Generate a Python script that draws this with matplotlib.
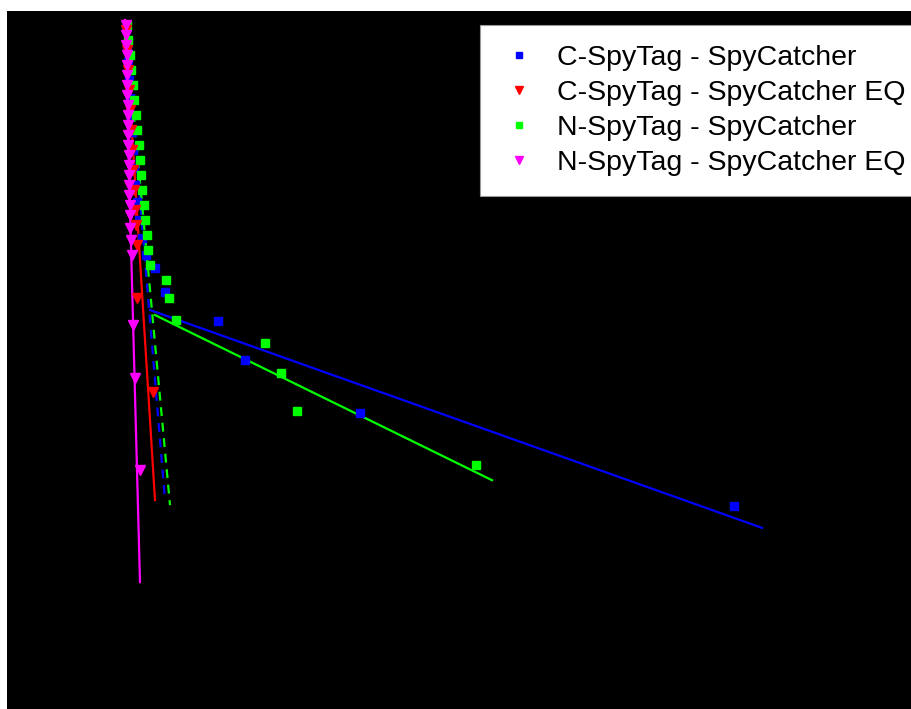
import matplotlib.pyplot as plt

plt.rcParams['font.family'] = ['Liberation Sans', 'DejaVu Sans']

# Scatchard-type data: bound (x) vs bound/free (y)
c_wt_x = [0.06, 0.07, 0.08, 0.09, 0.10, 0.11, 0.12, 0.13, 0.14, 0.15, 0.17, 0.19, 0.22, 0.26,
          0.35, 0.45, 0.98, 1.25, 2.40, 6.14]
c_wt_y = [5.72, 5.55, 5.38, 5.20, 5.02, 4.85, 4.68, 4.50, 4.32, 4.15, 3.98, 3.80, 3.62, 3.45,
          3.32, 3.08, 2.79, 2.40, 1.87, 0.94]

c_eq_x = [0.06, 0.07, 0.08, 0.09, 0.10, 0.11, 0.12, 0.13, 0.14, 0.15, 0.16, 0.17, 0.17, 0.33]
c_eq_y = [5.70, 5.50, 5.30, 5.10, 4.90, 4.70, 4.50, 4.30, 4.10, 3.90, 3.75, 3.55, 3.02, 2.08]

n_wt_x = [0.07, 0.08, 0.10, 0.11, 0.13, 0.14, 0.16, 0.17, 0.19, 0.20, 0.21, 0.22, 0.24, 0.25,
          0.27, 0.28, 0.30, 0.46, 0.49, 0.56, 1.45, 1.61, 1.77, 3.56]
n_wt_y = [5.75, 5.60, 5.45, 5.30, 5.15, 5.00, 4.85, 4.70, 4.55, 4.40, 4.25, 4.10, 3.95, 3.80,
          3.65, 3.50, 3.35, 3.20, 3.02, 2.80, 2.57, 2.27, 1.89, 1.35]

n_eq_x = [0.06, 0.06, 0.06, 0.07, 0.07, 0.07, 0.07, 0.07, 0.08, 0.08, 0.08, 0.08, 0.08,
          0.09, 0.09, 0.09, 0.09, 0.09, 0.10, 0.10, 0.10, 0.11, 0.12, 0.13, 0.15, 0.20]
n_eq_y = [5.75, 5.65, 5.55, 5.45, 5.35, 5.25, 5.15, 5.05, 4.95, 4.85, 4.75, 4.65, 4.55,
          4.45, 4.35, 4.25, 4.15, 4.05, 3.95, 3.85, 3.72, 3.60, 3.45, 2.75, 2.22, 1.30]

# linear fits: (x start, x end, slope, intercept)
fit_c_wt_hi = (0.05, 0.45, -12.0, 6.40)
fit_c_wt_lo = (0.30, 6.42, -0.356, 3.007)
fit_c_eq = (0.05, 0.35, -16.0, 6.60)
fit_n_wt_hi = (0.05, 0.50, -10.78, 6.339)
fit_n_wt_lo = (0.35, 3.72, -0.490, 3.021)
fit_n_eq = (0.05, 0.20, -37.47, 7.673)

labels = ['C-SpyTag - SpyCatcher', 'C-SpyTag - SpyCatcher EQ',
          'N-SpyTag - SpyCatcher', 'N-SpyTag - SpyCatcher EQ']


def fit_line(ax, fit, color, ls='-'):
    x0, x1, m, c = fit
    ax.plot([x0, x1], [m * x0 + c, m * x1 + c], color=color, lw=1.6, ls=ls)


fig = plt.figure(figsize=(9.12, 7.09), dpi=100, facecolor='white')
ax = fig.add_axes([7 / 912, 0, 905 / 912, 698 / 709], facecolor='black')

fit_line(ax, fit_c_wt_hi, '#0000ff', (0, (4, 3)))
fit_line(ax, fit_n_wt_hi, '#00ff00', (0, (4, 3)))
fit_line(ax, fit_c_wt_lo, '#0000ff')
fit_line(ax, fit_n_wt_lo, '#00ff00')
fit_line(ax, fit_c_eq, '#ff0000')
fit_line(ax, fit_n_eq, '#ff00ff')

h1, = ax.plot(c_wt_x, c_wt_y, 's', color='#0000ff', ms=5.5, ls='none')
h3, = ax.plot(n_wt_x, n_wt_y, 's', color='#00ff00', ms=5.5, ls='none')
h2, = ax.plot(c_eq_x, c_eq_y, 'v', color='#ff0000', ms=7, ls='none')
h4, = ax.plot(n_eq_x, n_eq_y, 'v', color='#ff00ff', ms=7, ls='none')

ax.set_xlim(-1.13, 7.92)
ax.set_ylim(-1.09, 5.89)
ax.set_xticks([])
ax.set_yticks([])
for s in ax.spines.values():
    s.set_visible(False)

# legend box runs slightly past the right edge of the figure
leg = ax.legend([h1, h2, h3, h4], labels, loc='upper right',
                bbox_to_anchor=(1.0144, 0.98), borderaxespad=0, fontsize=20.5,
                fancybox=False, framealpha=1, edgecolor='#999999',
                handlelength=1.33, handletextpad=0.67, borderpad=0.7,
                labelspacing=0.32, markerscale=0.85)
leg.get_frame().set_linewidth(0.8)
leg.set_clip_on(False)

fig.savefig('out.png', dpi=100, facecolor='white')
